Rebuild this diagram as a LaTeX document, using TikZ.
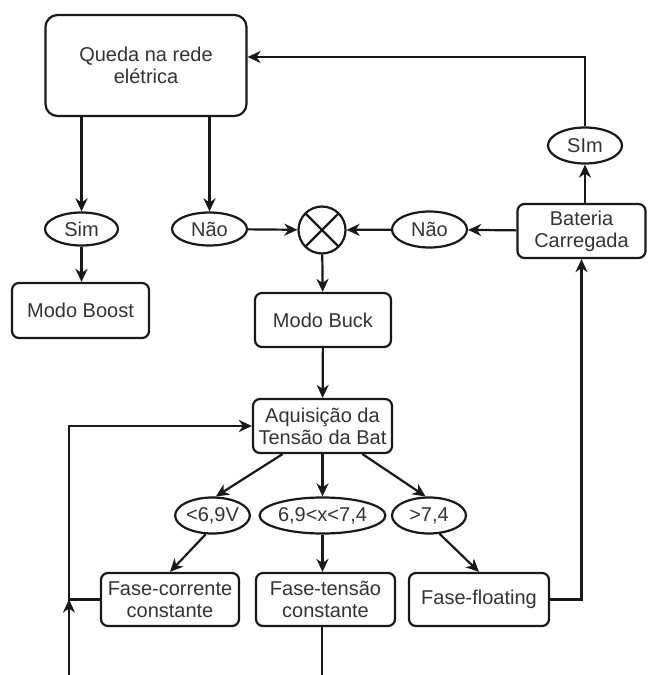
\documentclass[tikz,border=0pt]{standalone}
\usepackage{fontspec}
\setmainfont{Liberation Sans}
\usetikzlibrary{arrows.meta,shapes.geometric}

\begin{document}
\begin{tikzpicture}[x=1pt,y=-1pt,
        font=\fontsize{20}{22}\selectfont, color=black!90, text=black!80,
        line width=2.2pt,
        bloco/.style={draw, rounded corners=7pt, align=center, inner sep=2pt},
        rotulo/.style={draw, ellipse, inner sep=0pt},
        seta/.style={-{Stealth[length=13pt,width=12pt,inset=4pt]}}]
        \useasboundingbox (0,0) rectangle (648,675);

        \node[bloco, rounded corners=12pt, minimum width=201, minimum height=101] (queda) at (146,65.5) {Queda na rede\\elétrica};
        \node[rotulo, minimum width=73, minimum height=33] (simA) at (81.5,229) {Sim};
        \node[rotulo, minimum width=75, minimum height=33] (naoA) at (209.5,229) {Não};
        \node[draw, circle, minimum size=47, inner sep=0pt,
            path picture={\draw (path picture bounding box.north west) -- (path picture bounding box.south east)
                (path picture bounding box.north east) -- (path picture bounding box.south west);}] (soma) at (322,230) {};
        \node[rotulo, minimum width=75, minimum height=36] (naoB) at (429.5,229.5) {Não};
        \node[bloco, minimum width=128, minimum height=54] (bateria) at (581.5,231) {Bateria\\Carregada};
        \node[rotulo, minimum width=74, minimum height=36] (simB) at (585,145.5) {SIm};
        \node[bloco, minimum width=137, minimum height=55] (boost) at (80.5,310.5) {Modo Boost};
        \node[bloco, minimum width=136, minimum height=54] (buck) at (323,320) {Modo Buck};
        \node[bloco, minimum width=139, minimum height=54] (aquis) at (322.5,426) {Aquisição da\\Tensão da Bat};
        \node[rotulo, minimum width=65, minimum height=36] (faixa1) at (212.5,515.5) {<6,9V};
        \node[rotulo, minimum width=105, minimum height=36] (faixa2) at (322.5,515.5) {6,9<x<7,4};
        \node[rotulo, minimum width=74, minimum height=36] (faixa3) at (429,515.5) {>7,4};
        \node[bloco, minimum width=138, minimum height=53] (corrente) at (170,599.5) {Fase-corrente\\constante};
        \node[bloco, minimum width=139, minimum height=53] (tensao) at (325.5,599.5) {Fase-tensão\\constante};
        \node[bloco, minimum width=140, minimum height=53] (floating) at (479,599.5) {Fase-floating};
        \coordinate (retorno) at (69,599.5);
        \coordinate (baixoE) at (69,675);
        \coordinate (baixoM) at (322,675);

        \draw[seta] (simA.north |- queda.south) -- (simA.north);
        \draw[seta] (naoA.north |- queda.south) -- (naoA.north);
        \draw[seta] (simA.south) -- (simA.south |- boost.north);
        \draw[seta] (naoA) -- (soma);
        \draw[seta] (naoB) -- (soma);
        \draw[seta] (bateria) -- (naoB);
        \draw[seta] (simB.south |- bateria.north) -- (simB.south);
        \draw[seta] (simB.north) |- ([yshift=8.5pt]queda.east);
        \draw[seta] (soma) -- (buck);
        \draw[seta] (buck) -- (aquis);
        \draw[seta] ([xshift=-40pt]aquis.south) -- (faixa1.80);
        \draw[seta] (aquis) -- (faixa2);
        \draw[seta] ([xshift=40pt]aquis.south) -- (faixa3.100);
        \draw[seta] (faixa1.250) -- (corrente.north);
        \draw[seta] (faixa2.south) -- (faixa2.south |- tensao.north);
        \draw[seta] (faixa3.300) -- (floating.north);
        \draw[seta] (floating.east) -| (bateria.south);
        \draw[seta] (corrente.west) -- (retorno) |- (aquis.west);
        \draw[seta] (baixoE) -- (retorno);
        \draw (baixoM |- tensao.south) -- (baixoM);
\end{tikzpicture}
\end{document}
